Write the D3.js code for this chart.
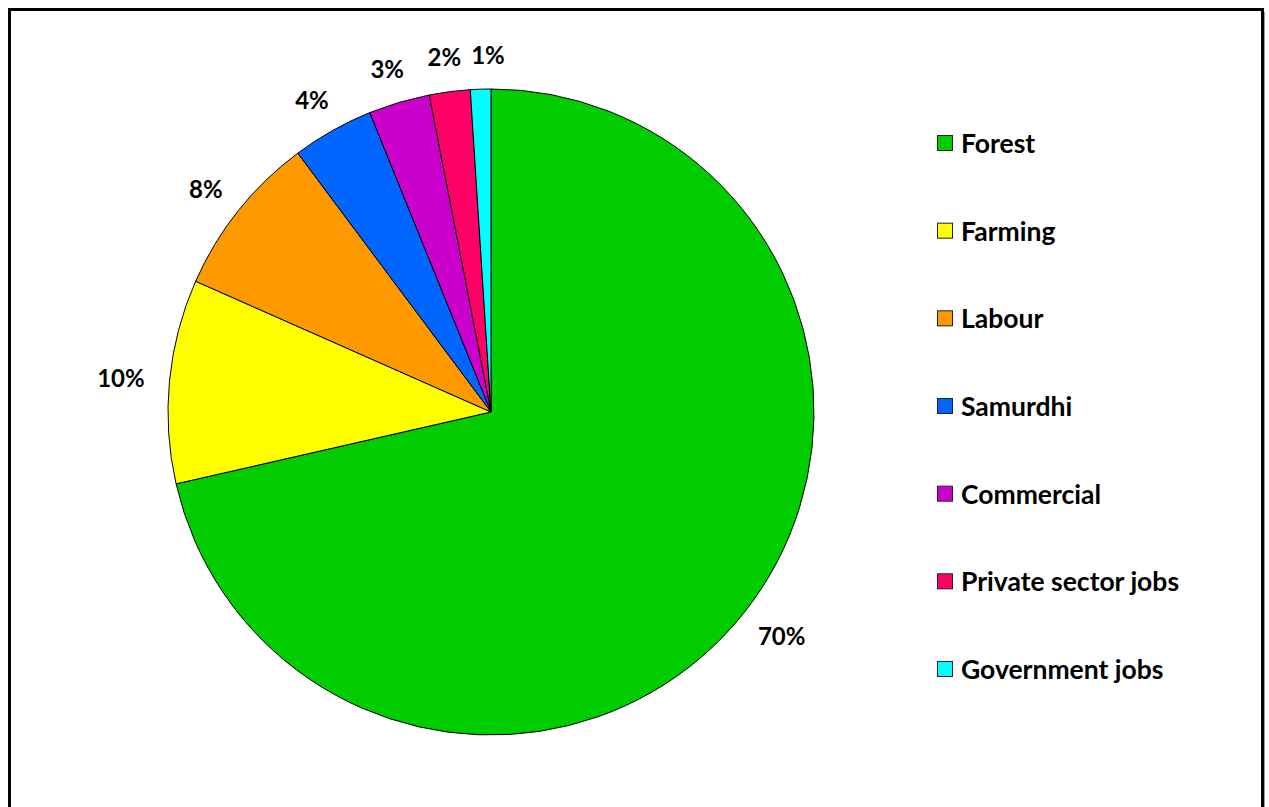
<!DOCTYPE html>
<html>
<head>
<meta charset="utf-8">
<script src="https://cdn.jsdelivr.net/npm/d3@7"></script>
<style>
  body { margin: 0; background: #fff; }
  text { font-family: Lato, "Open Sans", sans-serif; font-weight: bold; fill: #000; }
</style>
</head>
<body>
<div id="chart"></div>
<script>
const categories = ["Forest", "Farming", "Labour", "Samurdhi", "Commercial", "Private sector jobs", "Government jobs"];
const values     = [70, 10, 8, 4, 3, 2, 1];
const colours    = ["#00cc00", "#ffff00", "#ff9900", "#0066ff", "#cc00cc", "#ff0066", "#00ffff"];

const width = 1269, height = 807;
const cx = 491, cy = 412, radius = 323;

const svg = d3.select("#chart").append("svg")
    .attr("width", width)
    .attr("height", height);

// frame with a little shadow on the right
svg.append("rect")
    .attr("x", 12).attr("y", 12)
    .attr("width", 1253).attr("height", 820)
    .style("fill", "#999");
svg.append("rect")
    .attr("x", 9.5).attr("y", 9.5)
    .attr("width", 1253).attr("height", 820)
    .style("fill", "#fff")
    .style("stroke", "#000")
    .style("stroke-width", 3);

const rows = categories.map((c, i) => ({name: c, value: values[i], colour: colours[i]}));

const pie = d3.pie().sort(null).value(d => d.value);
const arcs = pie(rows);
const arc = d3.arc().innerRadius(0).outerRadius(radius);

const g = svg.append("g")
    .attr("transform", "translate(" + cx + "," + cy + ")");

g.selectAll(".slice")
    .data(arcs)
    .enter().append("path")
    .attr("class", "slice")
    .attr("d", arc)
    .style("fill", d => d.data.colour)
    .style("stroke", "#000")
    .style("stroke-width", 1);

// labels outside the end of each slice, pushed out by their own box
const labelR = radius + 25;
const boxes = [];
g.selectAll(".lbl")
    .data(arcs)
    .enter().append("text")
    .attr("class", "lbl")
    .style("font-size", "24px")
    .attr("text-anchor", "middle")
    .attr("dominant-baseline", "central")
    .text(d => d.data.value + "%")
    .each(function (d) {
      const a = (d.startAngle + d.endAngle) / 2;
      const s = Math.sin(a), c = -Math.cos(a);
      const b = this.getBBox();
      const w = b.width, h = b.height * 0.7;
      let x = labelR * s + s * w / 2;
      const y = labelR * c + c * h / 2;
      // keep a gap to the previous label if they sit on the same line
      const prev = boxes[boxes.length - 1];
      if (prev && Math.abs(prev.y - y) < h) {
        const minX = prev.x + prev.w / 2 + 10 + w / 2;
        if (x < minX) x = minX;
      }
      boxes.push({x: x, y: y, w: w});
      d3.select(this).attr("x", x).attr("y", y);
    });

// legend
const legendY = d3.scalePoint()
    .domain(categories)
    .range([143, 669]);

const legend = svg.selectAll(".legend")
    .data(rows)
    .enter().append("g")
    .attr("class", "legend")
    .attr("transform", d => "translate(937," + legendY(d.name) + ")");

legend.append("rect")
    .attr("x", 0.5).attr("y", -7.5)
    .attr("width", 15).attr("height", 15)
    .style("fill", d => d.colour)
    .style("stroke", "#222");

legend.append("text")
    .attr("x", 24)
    .attr("dominant-baseline", "central")
    .style("font-size", "26.5px")
    .text(d => d.name);
</script>
</body>
</html>
